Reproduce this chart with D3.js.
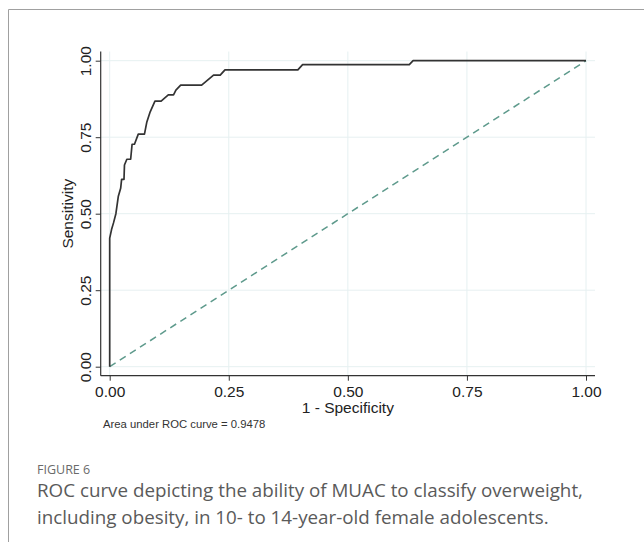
<!DOCTYPE html>
<html>
<head>
<meta charset="utf-8">
<script src="https://cdn.jsdelivr.net/npm/d3@7"></script>
<style>
  body { margin: 0; background: #fff; }
  svg { display: block; }
</style>
</head>
<body>
<svg id="chart" width="644" height="542"></svg>
<script>
// ROC points (1 - specificity, sensitivity)
const fpr = [0, 0, 0.004, 0.008, 0.013, 0.018, 0.023, 0.025, 0.030, 0.031, 0.036, 0.044, 0.047, 0.052,
  0.060, 0.073, 0.078, 0.085, 0.095, 0.108, 0.123, 0.134, 0.139, 0.149, 0.193, 0.218, 0.232, 0.242,
  0.395, 0.405, 0.629, 0.637, 1.0];
const tpr = [0, 0.42, 0.449, 0.47, 0.50, 0.556, 0.583, 0.612, 0.612, 0.659, 0.678, 0.678, 0.727, 0.727,
  0.76, 0.76, 0.80, 0.833, 0.868, 0.868, 0.888, 0.888, 0.904, 0.92, 0.92, 0.953, 0.953, 0.97,
  0.97, 0.987, 0.987, 1.0, 1.0];
const refLine = [0, 1];
const ticks = [0, 0.25, 0.5, 0.75, 1];
const xTitle = '1 - Specificity';
const yTitle = 'Sensitivity';
const aucNote = 'Area under ROC curve = 0.9478';
const figLabel = 'FIGURE 6';
const caption = [
  'ROC curve depicting the ability of MUAC to classify overweight,',
  'including obesity, in 10- to 14-year-old female adolescents.'
];

const svg = d3.select('#chart');
const font = 'Liberation Sans, Arial, sans-serif';

// card frame
svg.append('path')
  .attr('d', 'M8.5,542 V9.5 H644')
  .attr('fill', 'none').attr('stroke', '#a0a0a0').attr('stroke-width', 1);

const x = d3.scaleLinear().domain([0, 1]).range([109.7, 586]);
const y = d3.scaleLinear().domain([0, 1]).range([366.7, 60.7]);
const axisX = 100.7, axisY = 375.7;
const plotTop = 51.5, plotRight = 595;

// grid
const grid = svg.append('g').attr('stroke', '#e6f0f1').attr('stroke-width', 1);
grid.selectAll('line.v').data(ticks).enter().append('line')
  .attr('x1', d => x(d)).attr('x2', d => x(d))
  .attr('y1', plotTop).attr('y2', axisY);
grid.selectAll('line.h').data(ticks).enter().append('line')
  .attr('y1', d => y(d)).attr('y2', d => y(d))
  .attr('x1', axisX).attr('x2', plotRight);

// axes
const gx = svg.append('g').attr('transform', `translate(0,${axisY})`)
  .call(d3.axisBottom(x).tickValues(ticks).tickFormat(d3.format('.2f')).tickSize(5).tickPadding(5));
gx.select('.domain').attr('d', `M${axisX},0H${plotRight}`);
const gy = svg.append('g').attr('transform', `translate(${axisX},0)`)
  .call(d3.axisLeft(y).tickValues(ticks).tickFormat(d3.format('.2f')).tickSize(5).tickPadding(4));
gy.select('.domain').attr('d', `M0,${plotTop}V${axisY}`);

[gx, gy].forEach(g => {
  g.selectAll('.domain').attr('stroke', '#333').attr('stroke-width', 1.2);
  g.selectAll('.tick line').attr('stroke', '#333');
  g.selectAll('.tick text').attr('fill', '#222').attr('font-family', font).attr('font-size', 15.5);
});
gx.selectAll('.tick text').attr('dy', '0.75em');
gy.selectAll('.tick text')
  .attr('text-anchor', 'middle')
  .attr('dy', 0)
  .attr('transform', 'translate(-9.5,0) rotate(-90)')
  .attr('x', 0).attr('y', 0);

// reference diagonal
svg.append('path')
  .datum(refLine)
  .attr('d', d3.line().x(d => x(d)).y(d => y(d)))
  .attr('fill', 'none').attr('stroke', '#5e9a8c').attr('stroke-width', 1.5)
  .attr('stroke-dasharray', '7,5');

// ROC curve
svg.append('path')
  .datum(d3.range(fpr.length))
  .attr('d', d3.line().x(i => x(fpr[i])).y(i => y(tpr[i])))
  .attr('fill', 'none').attr('stroke', '#333').attr('stroke-width', 1.7)
  .attr('stroke-linejoin', 'round');

// titles
svg.append('text').text(xTitle)
  .attr('x', x(0.5)).attr('y', 413)
  .attr('text-anchor', 'middle').attr('font-family', font).attr('font-size', 15.5).attr('fill', '#222');
svg.append('text').text(yTitle)
  .attr('transform', `translate(73,${y(0.5)}) rotate(-90)`)
  .attr('text-anchor', 'middle').attr('font-family', font).attr('font-size', 15.5).attr('fill', '#222');
svg.append('text').text(aucNote)
  .attr('x', 103).attr('y', 428)
  .attr('font-family', font).attr('font-size', 11.3).attr('fill', '#333');

// caption
svg.append('text').text(figLabel)
  .attr('x', 37).attr('y', 474)
  .attr('font-family', 'Open Sans, sans-serif').attr('font-size', 12.5).attr('fill', '#6a6a6a');
svg.selectAll('text.cap').data(caption).enter().append('text')
  .attr('class', 'cap')
  .text(d => d)
  .attr('x', 37).attr('y', (d, i) => 497 + i * 27)
  .attr('font-family', 'Open Sans, sans-serif').attr('font-size', 18.8).attr('fill', '#5a5a5a');
</script>
</body>
</html>
